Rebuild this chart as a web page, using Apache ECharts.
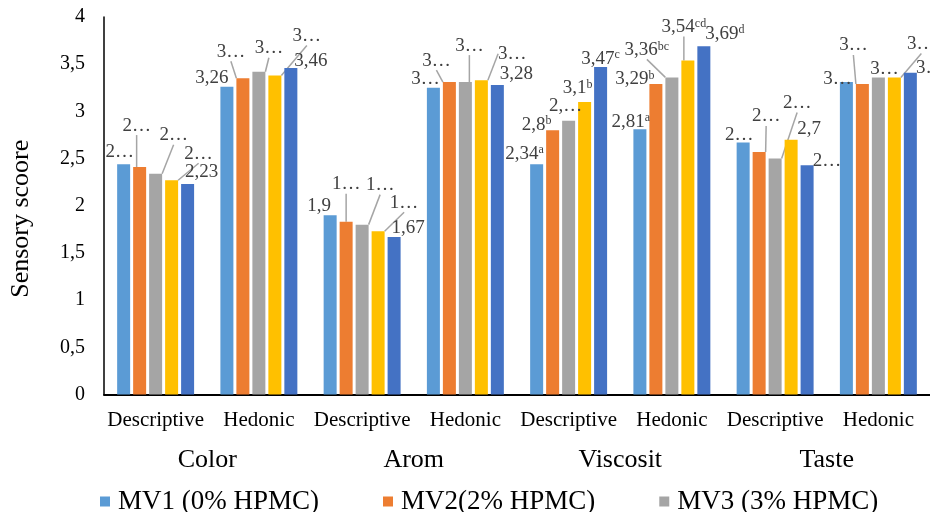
<!DOCTYPE html>
<html>
<head>
<meta charset="utf-8">
<script src="https://cdn.jsdelivr.net/npm/echarts@6/dist/echarts.min.js"></script>
<style>html,body{margin:0;padding:0;background:#fff}#c{width:930px;height:512px}</style>
</head>
<body>
<div id="c"></div>
<script>
// ---------- DATA ----------
const categories = ['Descriptive','Hedonic','Descriptive','Hedonic','Descriptive','Hedonic','Descriptive','Hedonic'];
const groups = ['Color','Arom','Viscosit','Taste'];
const seriesNames = ['MV1 (0% HPMC)','MV2(2% HPMC)','MV3 (3% HPMC)','MV4 (4% HPMC)','MV5 (5% HPMC)'];
const yTicks = [0,0.5,1,1.5,2,2.5,3,3.5,4];

const mv1 = [2.44, 3.26, 1.90, 3.25, 2.44, 2.81, 2.67, 3.31];
const mv2 = [2.41, 3.35, 1.83, 3.31, 2.80, 3.29, 2.57, 3.29];
const mv3 = [2.34, 3.42, 1.80, 3.31, 2.90, 3.36, 2.50, 3.36];
const mv4 = [2.27, 3.38, 1.73, 3.33, 3.10, 3.54, 2.70, 3.36];
const mv5 = [2.23, 3.46, 1.67, 3.28, 3.47, 3.69, 2.43, 3.41];

// data label texts as shown (truncated by the original chart) and superscript letters
const mv1Text = ['2…','3,26','1,9','3…','2,34','2,81','2…','3…'];
const mv2Text = ['2…','3…','1…','3…','2,8','3,29','2…','3…'];
const mv3Text = ['2…','3…','1…','3…','2,…','3,36','2…','3…'];
const mv4Text = ['2…','3…','1…','3…','3,1','3,54','2,7','3…'];
const mv5Text = ['2,23','3,46','1,67','3,28','3,47','3,69','2…','3…'];
const mv1Sup = ['','','','','a','a','',''];
const mv2Sup = ['','','','','b','b','',''];
const mv3Sup = ['','','','','','bc','',''];
const mv4Sup = ['','','','','b','cd','',''];
const mv5Sup = ['','','','','c','d','',''];

// ---------- LABEL PLACEMENT (style: offsets from default spot, leader line flag) ----------
const labelMoves = [
  [[-4,2,0],[-15,6,0],[-11,5,0],[-8,6,0],[-12,4,0],[-9,7,0],[-4,7,0],[-9,11,0]],
  [[-3,-27,1],[-12,-12,1],[0,-23,1],[-13,-7,1],[-16,9,0],[-21,10,0],[7,-21,1],[-9,-24,1]],
  [[18,-24,1],[10,-9,1],[18,-25,1],[4,-22,1],[-3,0,0],[-25,-13,1],[22,-41,1],[6,6,0]],
  [[27,-12,1],[32,-25,1],[26,-14,1],[31,-12,1],[-7,1,0],[-4,-19,1],[18,4,0],[27,-19,1]],
  [[14,2,0],[20,8,0],[14,6,0],[19,4,0],[0,6,0],[21,2,0],[20,10,0],[20,10,0]]
];

const colors = ['#5B9BD5','#ED7D31','#A5A5A5','#FFC000','#4472C4'];
const values = [mv1, mv2, mv3, mv4, mv5];
const texts = [mv1Text, mv2Text, mv3Text, mv4Text, mv5Text];
const sups = [mv1Sup, mv2Sup, mv3Sup, mv4Sup, mv5Sup];

const FONT = '"Liberation Serif", "Times New Roman", serif';

const series = values.map((vals, si) => ({
  name: seriesNames[si],
  type: 'bar',
  xAxisIndex: 0,
  barWidth: 13,
  barGap: '23%',
  itemStyle: { color: colors[si] },
  data: vals.map((v, i) => ({ value: v, labelLine: { show: !!labelMoves[si][i][2] } })),
  label: {
    show: true,
    position: 'top',
    distance: 5,
    color: '#404040',
    fontFamily: FONT,
    fontSize: 19,
    formatter: p => texts[si][p.dataIndex] + (sups[si][p.dataIndex] ? '{s|' + sups[si][p.dataIndex] + '}' : ''),
    rich: {
      s: { fontFamily: FONT, fontSize: 12, color: '#404040', verticalAlign: 'top', padding: [0,0,6,0] }
    }
  },
  labelLine: { show: true, lineStyle: { color: '#A5A5A5', width: 1.5 } },
  labelLayout: p => {
    const m = labelMoves[si][p.dataIndex];
    return {
      x: p.labelRect.x + p.labelRect.width / 2 + m[0],
      y: p.labelRect.y + p.labelRect.height / 2 + m[1],
      align: 'center',
      verticalAlign: 'middle'
    };
  }
}));

const chart = echarts.init(document.getElementById('c'), null, { renderer: 'canvas' });
chart.setOption({
  animation: false,
  backgroundColor: '#fff',
  textStyle: { fontFamily: FONT },
  grid: { left: 104, top: 17, width: 832, height: 377.5, containLabel: false },
  legend: {
    data: seriesNames,
    left: 95,
    top: 483,
    width: 3000,
    itemWidth: 10,
    itemHeight: 10,
    itemGap: 64,
    icon: 'rect',
    textStyle: { fontFamily: FONT, fontSize: 27, color: '#000', padding: [0,0,0,3] }
  },
  xAxis: [
    {
      type: 'category',
      data: categories,
      axisLine: { show: true, lineStyle: { color: '#000', width: 2 } },
      axisTick: { show: false },
      axisLabel: { interval: 0, color: '#000', fontFamily: FONT, fontSize: 21, margin: 15 }
    },
    {
      type: 'category',
      data: groups,
      position: 'bottom',
      offset: 45,
      axisLine: { show: false },
      axisTick: { show: false },
      axisLabel: { interval: 0, color: '#000', fontFamily: FONT, fontSize: 26, margin: 8 }
    }
  ],
  yAxis: {
    type: 'value',
    min: yTicks[0],
    max: yTicks[yTicks.length - 1],
    interval: yTicks[1] - yTicks[0],
    name: 'Sensory scoore',
    nameLocation: 'middle',
    nameGap: 70,
    nameTextStyle: { fontFamily: FONT, fontSize: 26, color: '#000', padding: [0, 26, 0, 0] },
    axisLine: { show: true, lineStyle: { color: '#000', width: 1.5 } },
    axisTick: { show: false },
    splitLine: { show: false },
    axisLabel: { color: '#000', fontFamily: FONT, fontSize: 20, margin: 19,
      formatter: v => String(v).replace('.', ',') }
  },
  series: series
});
</script>
</body>
</html>
